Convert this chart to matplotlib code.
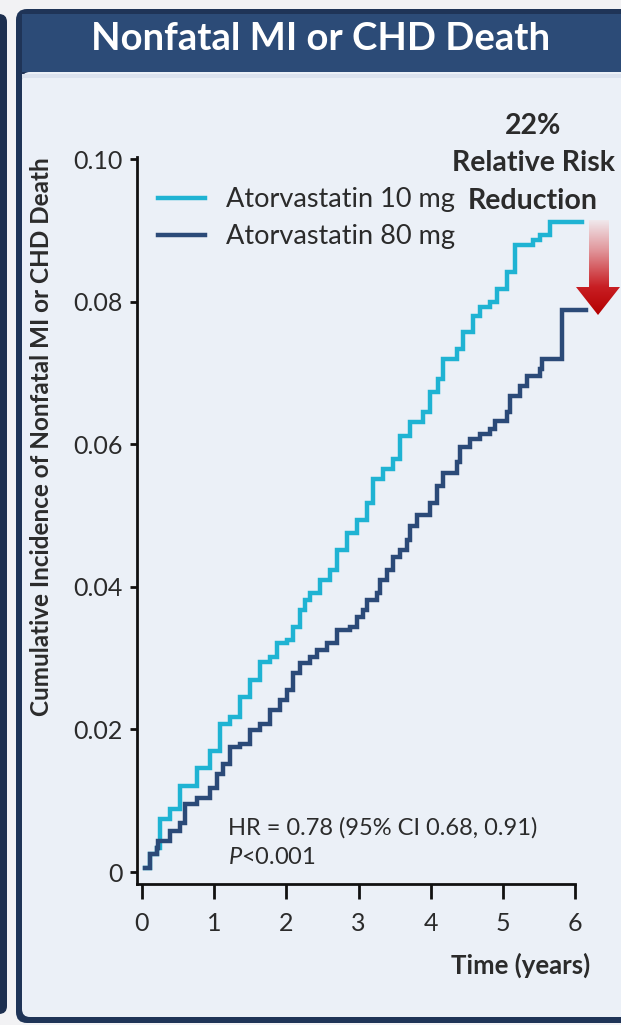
import matplotlib
matplotlib.use('Agg')
import matplotlib.pyplot as plt
import numpy as np
from matplotlib.patches import FancyBboxPatch, Polygon, Rectangle

plt.rcParams['font.family'] = ['Lato', 'DejaVu Sans']
plt.rcParams['mathtext.fontset'] = 'custom'
plt.rcParams['mathtext.rm'] = 'Lato'
plt.rcParams['mathtext.it'] = 'Lato:italic'

# ---------------- data ----------------
title = "Nonfatal MI or CHD Death"
series_labels = ["Atorvastatin 10 mg", "Atorvastatin 80 mg"]

t10 = [0.04, 0.11, 0.21, 0.25, 0.39, 0.53, 0.76, 0.94, 1.08, 1.22, 1.36, 1.50, 1.64,
       1.77, 1.87, 2.01, 2.09, 2.19, 2.26, 2.33, 2.47, 2.60, 2.70, 2.84, 2.98, 3.12,
       3.20, 3.34, 3.48, 3.57, 3.71, 3.89, 3.99, 4.10, 4.17, 4.36, 4.45, 4.58, 4.68,
       4.82, 4.91, 5.05, 5.16, 5.41, 5.51, 5.65, 6.09]
v10 = [0.0006, 0.0025, 0.0034, 0.0075, 0.0089, 0.0121, 0.0146, 0.0170, 0.0208, 0.0217,
       0.0245, 0.0269, 0.0294, 0.0301, 0.0321, 0.0325, 0.0344, 0.0368, 0.0382, 0.0391,
       0.0410, 0.0424, 0.0452, 0.0476, 0.0494, 0.0518, 0.0551, 0.0565, 0.0579, 0.0611,
       0.0631, 0.0645, 0.0673, 0.0692, 0.0720, 0.0734, 0.0758, 0.0780, 0.0793, 0.0800,
       0.0818, 0.0842, 0.0879, 0.0886, 0.0893, 0.0912, 0.0912]

t80 = [0.04, 0.11, 0.21, 0.22, 0.39, 0.53, 0.60, 0.76, 0.94, 1.04, 1.12, 1.22, 1.36,
       1.50, 1.64, 1.77, 1.91, 2.01, 2.09, 2.19, 2.33, 2.43, 2.56, 2.70, 2.88, 2.98,
       3.06, 3.12, 3.25, 3.30, 3.39, 3.48, 3.57, 3.67, 3.71, 3.81, 3.99, 4.08, 4.17,
       4.36, 4.40, 4.54, 4.68, 4.82, 4.89, 5.05, 5.09, 5.23, 5.33, 5.51, 5.54, 5.81, 6.14]
v80 = [0.0006, 0.0025, 0.0034, 0.0044, 0.0058, 0.0069, 0.0096, 0.0104, 0.0118, 0.0138,
       0.0152, 0.0175, 0.0180, 0.0199, 0.0208, 0.0227, 0.0241, 0.0255, 0.0279, 0.0293,
       0.0301, 0.0311, 0.0321, 0.0339, 0.0344, 0.0358, 0.0368, 0.0382, 0.0391, 0.0410,
       0.0424, 0.0442, 0.0452, 0.0466, 0.0485, 0.0501, 0.0518, 0.0541, 0.0560, 0.0575,
       0.0596, 0.0607, 0.0614, 0.0621, 0.0632, 0.0645, 0.0668, 0.0682, 0.0696, 0.0706,
       0.0720, 0.0788, 0.0788]

xticks = [0, 1, 2, 3, 4, 5, 6]
yticks = [0, 0.02, 0.04, 0.06, 0.08, 0.10]
ytick_labels = ["0", "0.02", "0.04", "0.06", "0.08", "0.10"]
ylabel = "Cumulative Incidence of Nonfatal MI or CHD Death"
xlabel = "Time (years)"
hr_text = "HR = 0.78 (95% CI 0.68, 0.91)"
p_text = r"$\it{P}$<0.001"
rrr_lines = ["22%", "Relative Risk", "Reduction"]

# ---------------- style ----------------
C10 = '#1fb3d3'
C80 = '#2b4a78'
TXT = '#2b2b2b'
W, H = 621, 1025

fig = plt.figure(figsize=(W / 100, H / 100), dpi=100)
fig.patch.set_facecolor('#f2f2f4')

bg = fig.add_axes([0, 0, 1, 1], zorder=0)
bg.set_xlim(0, W); bg.set_ylim(H, 0); bg.axis('off')
bg.add_patch(FancyBboxPatch((-30, 14), 37, 1000, boxstyle="round,pad=0,rounding_size=8",
                            fc='#1d2f4f', ec='none'))
bg.add_patch(FancyBboxPatch((16, 9), 660, 1014, boxstyle="round,pad=0,rounding_size=11",
                            fc='#1f3457', ec='none'))
bg.add_patch(FancyBboxPatch((22, 72), 660, 945, boxstyle="round,pad=0,rounding_size=8",
                            fc='#ebf0f7', ec='none'))
bg.add_patch(Rectangle((22, 74), 660, 4, fc='#dbe2ee', ec='none'))
bg.add_patch(Rectangle((22, 14), 660, 58, fc='#2c4b77', ec='none'))

ax = fig.add_axes([137 / W, 1 - 884 / H, (600 - 137) / W, (884 - 157) / H], zorder=1)
ax.patch.set_alpha(0)
ax.set_xlim(-0.066, 6.34)
ax.set_ylim(-0.00168, 0.1003)
ax.step(t10, v10, where='post', color=C10, lw=3.2, label=series_labels[0], solid_joinstyle='miter')
ax.step(t80, v80, where='post', color=C80, lw=3.2, label=series_labels[1], solid_joinstyle='miter')

for s in ['top', 'right']:
    ax.spines[s].set_visible(False)
for s in ['left', 'bottom']:
    ax.spines[s].set_linewidth(2.0)
    ax.spines[s].set_color('#111111')
ax.spines['bottom'].set_bounds(-0.066, 6)
ax.set_xticks(xticks)
ax.set_xticklabels([str(x) for x in xticks])
ax.set_yticks(yticks)
ax.set_yticklabels(ytick_labels)
ax.tick_params(axis='x', length=11, width=2, pad=9, labelsize=18, colors='#111111', labelcolor=TXT)
ax.tick_params(axis='y', length=5, width=2, pad=5, labelsize=18, colors='#111111', labelcolor=TXT)

leg = ax.legend(loc='upper left', bbox_to_anchor=(158 / W, 1 - 187 / H), bbox_transform=fig.transFigure,
                frameon=False, fontsize=19.5, handlelength=1.75, handletextpad=0.75, labelspacing=0.45,
                borderpad=0, borderaxespad=0)
for txt in leg.get_texts():
    txt.set_color(TXT)

fig.text(321 / W, 1 - 39 / H, title, color='white', fontsize=27.5, fontweight='bold', ha='center', va='center')
fig.text(42 / W, 1 - 437 / H, ylabel, rotation=90, fontsize=17.5, fontweight='bold', color=TXT,
         ha='center', va='center')
fig.text(590 / W, 1 - 965 / H, xlabel, fontsize=18.5, fontweight='bold', color=TXT, ha='right', va='center')
fig.text(228 / W, 1 - 828 / H, hr_text, fontsize=17, color=TXT, ha='left', va='center')
fig.text(228 / W, 1 - 857 / H, p_text, fontsize=17, color=TXT, ha='left', va='center')
for txt, yy in zip(rrr_lines, [126, 163, 201]):
    fig.text(533 / W, 1 - yy / H, txt, fontsize=20.5, fontweight='bold', color=TXT, ha='center', va='center')

# gradient arrow
ov = fig.add_axes([0, 0, 1, 1], zorder=3)
ov.set_xlim(0, W); ov.set_ylim(H, 0); ov.axis('off'); ov.patch.set_alpha(0)
y0, y1 = 220, 315
ys = np.linspace(y0, y1, 200)
stops_y = [220, 250, 287, 315]
r = np.interp(ys, stops_y, [240, 225, 200, 180]) / 255
g = np.interp(ys, stops_y, [232, 150, 30, 0]) / 255
b = np.interp(ys, stops_y, [236, 155, 35, 0]) / 255
img = np.stack([r, g, b], axis=1)[:, None, :].repeat(2, axis=1)
im = ov.imshow(img, extent=[575, 621, y1, y0], aspect='auto', interpolation='bilinear', zorder=3)
arrow = Polygon([(589, 220), (609, 220), (609, 287), (620, 287), (598, 315), (576, 287), (589, 287)],
                closed=True, fc='none', ec='none')
ov.add_patch(arrow)
im.set_clip_path(arrow)
ov.set_xlim(0, W); ov.set_ylim(H, 0)

fig.savefig('out.png', dpi=100, facecolor=fig.get_facecolor())
